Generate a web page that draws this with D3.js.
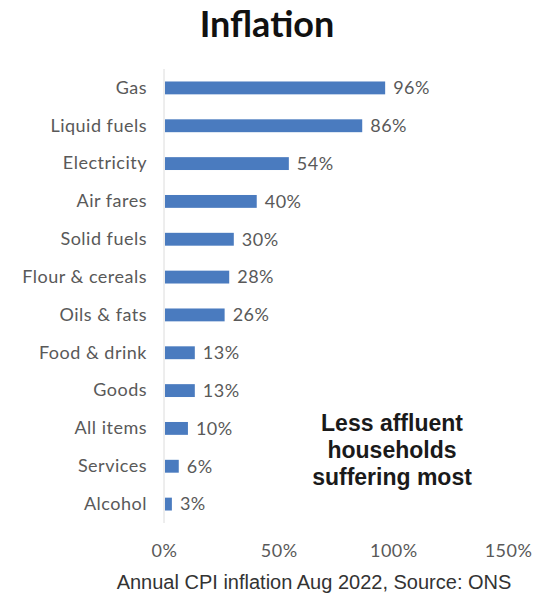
<html>
<head>
<script src="https://d3js.org/d3.v7.min.js"></script>
<style>
    body { margin: 0; background: #fff; }
    text { font-family: Lato, "Open Sans", sans-serif; }
</style>
</head>
<body>
<svg id='chart' width=547 height=597></svg>
<script>

    let categories = ['Gas', 'Liquid fuels', 'Electricity', 'Air fares', 'Solid fuels', 'Flour & cereals',
                      'Oils & fats', 'Food & drink', 'Goods', 'All items', 'Services', 'Alcohol'];
    let values = [96, 86, 54, 40, 30, 28, 26, 13, 13, 10, 6, 3];
    let xTicks = [0, 50, 100, 150];

    let svg = d3.select('#chart');

    let x = d3.scaleLinear()
        .domain([0, 150])
        .range([164, 508]);

    let y = d3.scaleBand()
        .domain(categories)
        .range([69, 523])
        .paddingInner(0.66)
        .paddingOuter(0.33);

    let data = categories.map((c, i) => ({ cat: c, val: values[i] }));

    // title
    svg.append('text')
        .attr('x', 267).attr('y', 37)
        .attr('text-anchor', 'middle')
        .style('font-family', 'Lato, sans-serif')
        .style('font-weight', 'bold')
        .style('font-size', '36px')
        .attr('fill', '#111')
        .text('Inflation');

    // axis line
    svg.append('line')
        .attr('x1', x(0)).attr('x2', x(0))
        .attr('y1', 69).attr('y2', 523)
        .attr('stroke', '#dcdcdc')
        .attr('stroke-width', 1);

    svg.selectAll('.bar')
        .data(data)
      .enter()
        .append('rect')
        .attr('class', 'bar')
        .attr('x', x(0) + 1)
        .attr('y', d => y(d.cat))
        .attr('width', d => x(d.val) - x(0))
        .attr('height', y.bandwidth())
        .attr('fill', '#4a7bbf');

    svg.selectAll('.val')
        .data(data)
      .enter()
        .append('text')
        .attr('class', 'val')
        .attr('x', d => x(d.val) + 9)
        .attr('y', d => y(d.cat) + y.bandwidth() / 2)
        .attr('dy', '0.35em')
        .style('font-size', '18px')
        .style('letter-spacing', '0.5px')
        .attr('fill', '#595959')
        .text(d => d.val + '%');

    let yAxis = svg.append('g')
        .attr('transform', 'translate(' + (x(0) - 17) + ',0)')
        .call(d3.axisLeft(y).tickSize(0).tickPadding(0));
    yAxis.select('.domain').remove();
    yAxis.selectAll('text')
        .style('font-family', 'Lato, sans-serif')
        .style('font-size', '18px')
        .style('letter-spacing', '0.5px')
        .attr('fill', '#595959');

    let xAxis = svg.append('g')
        .attr('transform', 'translate(0,541)')
        .call(d3.axisBottom(x).tickValues(xTicks).tickFormat(d => d + '%').tickSize(0));
    xAxis.select('.domain').remove();
    xAxis.selectAll('text')
        .style('font-family', 'Lato, sans-serif')
        .style('font-size', '18px')
        .style('letter-spacing', '0.5px')
        .attr('fill', '#595959');

    // annotation
    let note = ['Less affluent', 'households', 'suffering most'];
    svg.selectAll('.note')
        .data(note)
      .enter()
        .append('text')
        .attr('class', 'note')
        .attr('x', 392)
        .attr('y', (d, i) => 431 + i * 27)
        .attr('text-anchor', 'middle')
        .style('font-family', '"Liberation Sans", Arial, sans-serif')
        .style('font-weight', 'bold')
        .style('font-size', '23px')
        .attr('fill', '#1a1a1a')
        .text(d => d);

    svg.append('text')
        .attr('x', 314).attr('y', 589)
        .attr('text-anchor', 'middle')
        .style('font-family', '"Liberation Sans", Arial, sans-serif')
        .style('font-size', '20px')
        .attr('fill', '#333')
        .text('Annual CPI inflation Aug 2022, Source: ONS');

</script>
</body>
</html>
